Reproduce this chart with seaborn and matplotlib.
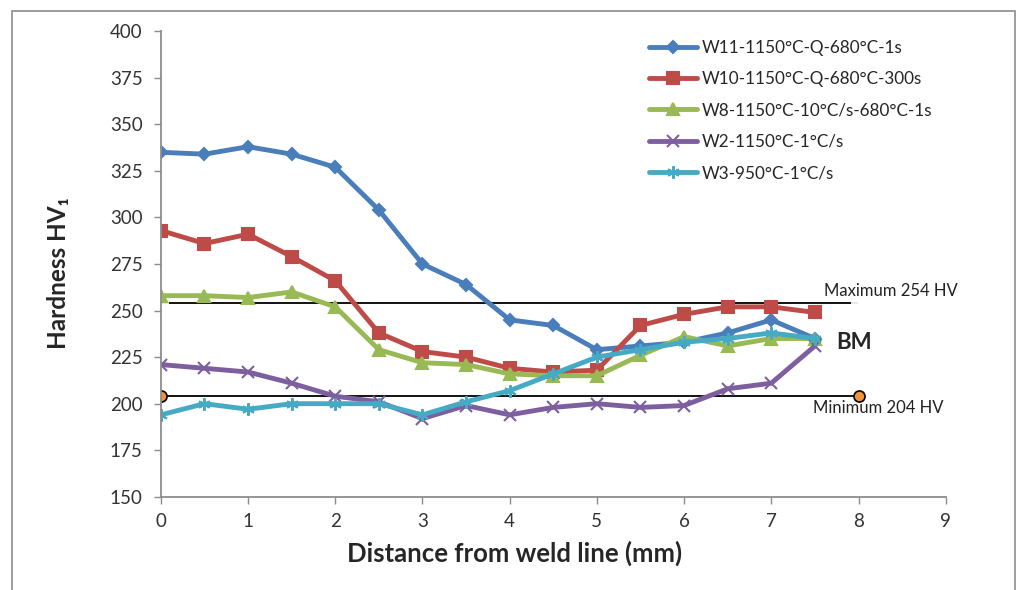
import matplotlib
matplotlib.use("Agg")
import matplotlib.pyplot as plt
import seaborn as sns
import pandas as pd
from matplotlib.patches import Rectangle

# datos
distancia = [0, 0.5, 1, 1.5, 2, 2.5, 3, 3.5, 4, 4.5, 5, 5.5, 6, 6.5, 7, 7.5]
w11 = [335, 334, 338, 334, 327, 304, 275, 264, 245, 242, 229, 231, 233, 238, 245, 235]
w10 = [293, 286, 291, 279, 266, 238, 228, 225, 219, 217, 218, 242, 248, 252, 252, 249]
w8 = [258, 258, 257, 260, 252, 229, 222, 221, 216, 215, 215, 226, 236, 231, 235, 235]
w2 = [221, 219, 217, 211, 204, 201, 192, 199, 194, 198, 200, 198, 199, 208, 211, 231]
w3 = [194, 200, 197, 200, 200, 200, 194, 201, 207, 216, 225, 229, 233, 235, 238, 235]

nombres = ["W11-1150°C-Q-680°C-1s", "W10-1150°C-Q-680°C-300s",
           "W8-1150°C-10°C/s-680°C-1s", "W2-1150°C-1°C/s", "W3-950°C-1°C/s"]
colores = ["#4A7EBB", "#BE4B48", "#98B954", "#7D5FA0", "#46AAC5"]
marcadores = ["D", "s", "^", "x", (6, 2, 0)]
tamanos = [6, 9, 8, 8, 9]

limite_x = [0, 8]
maximo_hv = [254, 254]
minimo_hv = [204, 204]

sns.set_style("white")
plt.rcParams["font.family"] = ["Lato", "DejaVu Sans"]

fig = plt.figure(figsize=(10.18, 5.9), dpi=100)
ax = fig.add_axes([0.158, 0.158, 0.771, 0.789])

# borde exterior
fig.patches.append(Rectangle((12 / 1018, -0.01), 1003 / 1018, 1 - 11 / 590 + 0.01,
                             transform=fig.transFigure, fill=False,
                             edgecolor="#8c8c8c", lw=1.2))

# lineas de referencia
sns.lineplot(x=limite_x, y=maximo_hv, color="black", lw=1.3, marker="+",
             markersize=12, markeredgewidth=1.3, ax=ax, legend=False)
sns.lineplot(x=limite_x, y=minimo_hv, color="black", lw=1.3, marker="o",
             markersize=8, markerfacecolor="#F0943A", markeredgecolor="black",
             markeredgewidth=1.2, ax=ax, legend=False)

series = [w11, w10, w8, w2, w3]
for vals, nom, col, mk, ms in zip(series, nombres, colores, marcadores, tamanos):
    df = pd.DataFrame({"x": distancia, "y": vals})
    sns.lineplot(data=df, x="x", y="y", color=col, lw=3.5, marker=mk,
                 markersize=ms, markeredgecolor=col, markeredgewidth=1.5,
                 label=nom, ax=ax)

ax.set_xlim(0, 9)
ax.set_ylim(150, 400)
ax.set_xticks(range(0, 10))
ax.set_yticks(range(150, 401, 25))
ax.tick_params(axis="both", labelsize=13.5, colors="#333333", direction="out",
               length=5, width=1, color="#8c8c8c", left=True, bottom=True)
ax.tick_params(axis="y", pad=8)
ax.tick_params(axis="x", pad=7)
for s in ["top", "right"]:
    ax.spines[s].set_visible(False)
for s in ["left", "bottom"]:
    ax.spines[s].set_color("#8c8c8c")
    ax.spines[s].set_linewidth(1.3)

ax.set_xlabel("Distance from weld line (mm)", fontsize=18.5, fontweight="bold")
ax.xaxis.set_label_coords(0.451, -0.095)
ax.set_ylabel("Hardness HV₁", fontsize=17.5, fontweight="bold")
ax.yaxis.set_label_coords(-0.116, 0.48)

ax.text(7.6, 256, "Maximum 254 HV", fontsize=12, ha="left", va="bottom", color="#222222")
ax.text(7.48, 202, "Minimum 204 HV", fontsize=12, ha="left", va="top", color="#222222")
ax.text(7.75, 233, "BM", fontsize=16, fontweight="bold", ha="left", va="center")

leg = ax.legend(loc="upper left", bbox_to_anchor=(0.602, 1.015), frameon=False,
                fontsize=12.3, handlelength=2.8, labelspacing=0.9, handletextpad=0.3)

fig.savefig("out.png", dpi=100)
